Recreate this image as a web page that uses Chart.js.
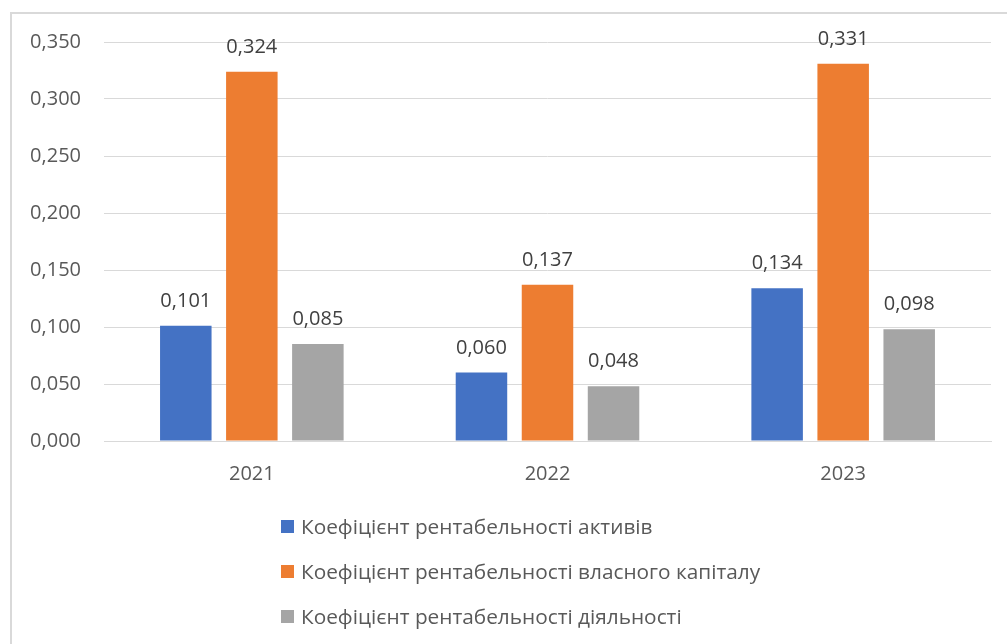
<!DOCTYPE html>
<html>
<head>
<meta charset="utf-8">
<script src="https://cdn.jsdelivr.net/npm/chart.js@4/dist/chart.umd.min.js"></script>
<style>
  body { margin: 0; background: #fff; }
  #wrap { position: relative; width: 1007px; height: 644px; overflow: hidden; }
  #frame { position: absolute; left: 10px; top: 12px; width: 1100px; height: 800px;
           border-left: 2px solid #d9d9d9; border-top: 2px solid #d9d9d9; }
  #chart { position: absolute; left: 0; top: 0; }
  #legend { position: absolute; left: 281px; top: 0; font-family: 'Open Sans', sans-serif;
            font-size: 20.8px; color: #595959; }
  .item { position: absolute; white-space: nowrap; display: flex; align-items: center; height: 30px; }
  .box { width: 13px; height: 13px; margin-right: 7px; }
</style>
</head>
<body>
<div id="wrap">
  <div id="frame"></div>
  <canvas id="chart" width="1007" height="644"></canvas>
  <div id="legend"></div>
</div>
<script>
var years = ['2021', '2022', '2023'];
var seriesNames = [
  'Коефіцієнт рентабельності активів',
  'Коефіцієнт рентабельності власного капіталу',
  'Коефіцієнт рентабельності діяльності'
];
var assetsReturn = [0.101, 0.060, 0.134];
var equityReturn = [0.324, 0.137, 0.331];
var activityReturn = [0.085, 0.048, 0.098];
var colors = ['#4472c4', '#ed7d31', '#a5a5a5'];

function fmt(v) {
  return v.toFixed(3).replace('.', ',');
}

Chart.defaults.font.family = "'Open Sans', sans-serif";
Chart.defaults.font.size = 20;
Chart.defaults.color = '#595959';

// labels over each bar, like the excel ones
var barLabels = {
  id: 'barLabels',
  afterDatasetsDraw: function (chart) {
    var ctx = chart.ctx;
    ctx.save();
    ctx.font = "20px 'Open Sans', sans-serif";
    ctx.fillStyle = '#404040';
    ctx.textAlign = 'center';
    ctx.textBaseline = 'alphabetic';
    chart.data.datasets.forEach(function (ds, i) {
      chart.getDatasetMeta(i).data.forEach(function (bar, j) {
        ctx.fillText(fmt(ds.data[j]), bar.x, bar.y - 19);
      });
    });
    ctx.restore();
  }
};

var sets = [assetsReturn, equityReturn, activityReturn].map(function (d, i) {
  return {
    label: seriesNames[i],
    data: d,
    backgroundColor: colors[i],
    categoryPercentage: 0.67,
    barPercentage: 0.78
  };
});

new Chart(document.getElementById('chart'), {
  type: 'bar',
  data: { labels: years, datasets: sets },
  options: {
    responsive: false,
    animation: false,
    layout: { padding: { top: 42, right: 16, left: 0, bottom: 0 } },
    plugins: { legend: { display: false }, tooltip: { enabled: false } },
    scales: {
      x: {
        grid: { display: false },
        border: { color: '#d9d9d9' },
        ticks: { padding: 13 },
        afterFit: function (s) { s.height = 203; }
      },
      y: {
        min: 0,
        max: 0.35,
        ticks: { stepSize: 0.05, padding: 23, callback: function (v) { return fmt(v); } },
        grid: { color: '#d9d9d9', drawTicks: false },
        border: { display: false },
        afterFit: function (s) { s.width = 104; }
      }
    }
  },
  plugins: [barLabels]
});

// legend goes in a column under the axis
var rowsY = [526, 571, 616];
var leg = document.getElementById('legend');
seriesNames.forEach(function (name, i) {
  var it = document.createElement('div');
  it.className = 'item';
  it.style.top = (rowsY[i] - 15) + 'px';
  it.innerHTML = '<span class="box" style="background:' + colors[i] + '"></span>';
  it.appendChild(document.createTextNode(name));
  leg.appendChild(it);
});
</script>
</body>
</html>
